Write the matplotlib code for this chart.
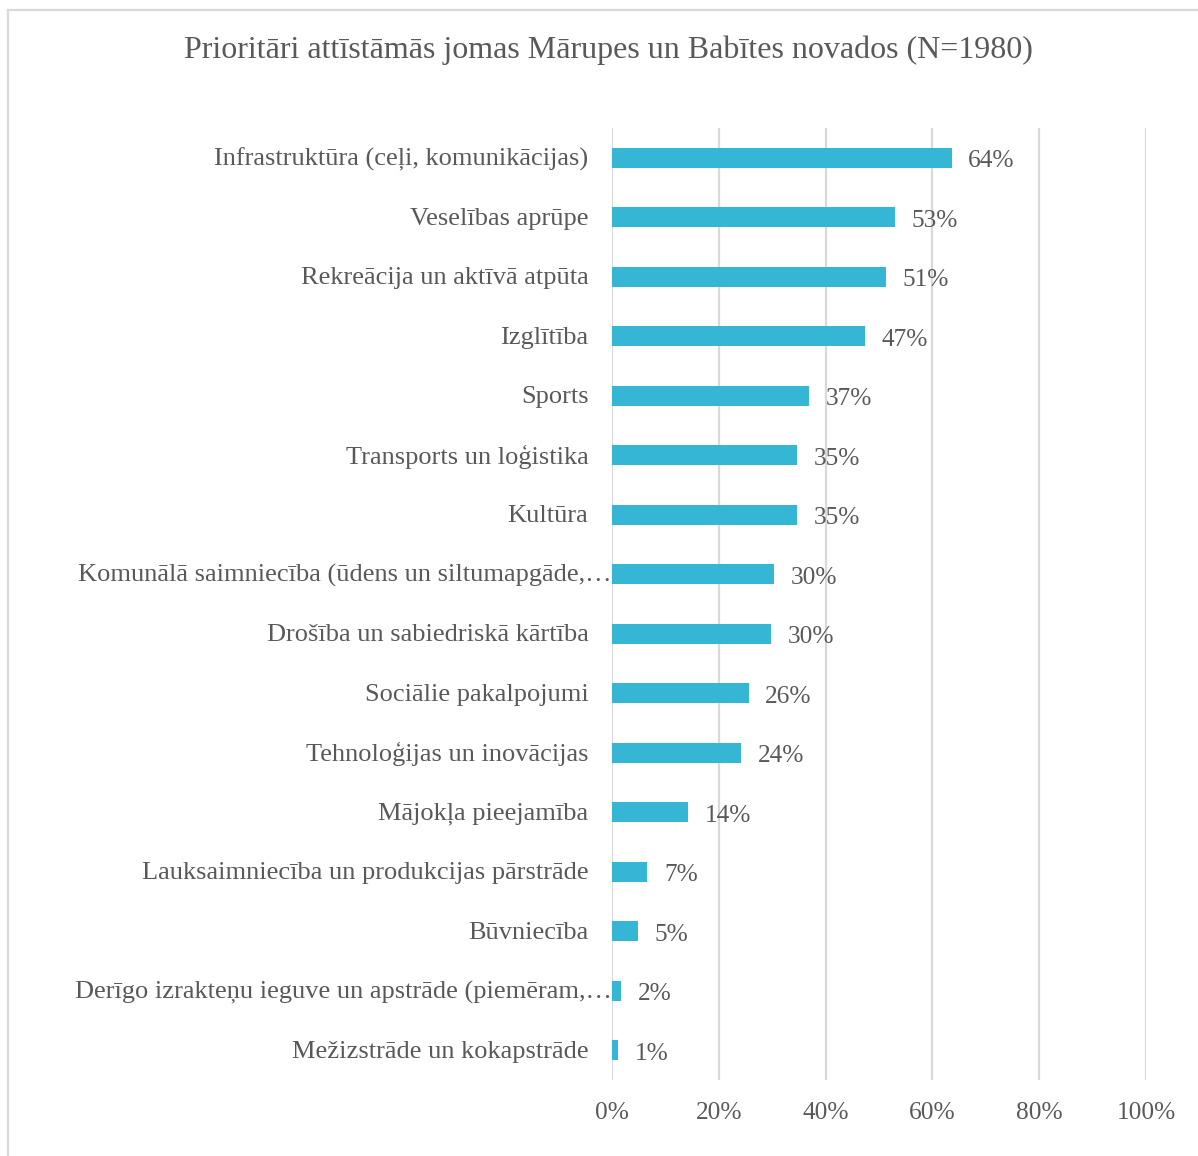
import matplotlib
matplotlib.use("Agg")
import matplotlib.pyplot as plt
from matplotlib.lines import Line2D
from matplotlib.ticker import FuncFormatter, MultipleLocator

categories = [
    "Infrastruktūra (ceļi, komunikācijas)",
    "Veselības aprūpe",
    "Rekreācija un aktīvā atpūta",
    "Izglītība",
    "Sports",
    "Transports un loģistika",
    "Kultūra",
    "Komunālā saimniecība (ūdens un siltumapgāde,…",
    "Drošība un sabiedriskā kārtība",
    "Sociālie pakalpojumi",
    "Tehnoloģijas un inovācijas",
    "Mājokļa pieejamība",
    "Lauksaimniecība un produkcijas pārstrāde",
    "Būvniecība",
    "Derīgo izrakteņu ieguve un apstrāde (piemēram,…",
    "Mežizstrāde un kokapstrāde",
]
values = [63.6, 53.0, 51.3, 47.4, 36.9, 34.7, 34.6, 30.3, 29.8, 25.6, 24.2, 14.2, 6.6, 4.9, 1.7, 1.2]
truncated = [False] * 7 + [True] + [False] * 6 + [True] + [False]
title = "Prioritāri attīstāmās jomas Mārupes un Babītes novados (N=1980)"

TXT = "#595959"
BAR = "#35B6D4"
GRID = "#D9D9D9"
FONT = "Liberation Serif"

fig = plt.figure(figsize=(11.98, 11.56), dpi=100)
ax = fig.add_axes([612 / 1198, 1 - 1080 / 1156, (1146 - 612) / 1198, (1080 - 128) / 1156])

ypos = list(range(len(categories)))
ax.barh(ypos, values, height=0.34, color=BAR, zorder=3)
ax.set_ylim(len(categories) - 0.5, -0.5)
ax.set_xlim(0, 100)
ax.xaxis.set_major_locator(MultipleLocator(20))
ax.xaxis.set_major_formatter(FuncFormatter(lambda v, p: f"{v:.0f}%"))
ax.grid(axis="x", color=GRID, linewidth=1.6, zorder=0)
for s in ax.spines.values():
    s.set_visible(False)
ax.tick_params(axis="both", length=0)
ax.tick_params(axis="x", pad=16, labelsize=18.3, labelcolor=TXT)
for lab in ax.get_xticklabels():
    lab.set_fontfamily(FONT)
ax.set_yticks([])

for i, (cat, v, tr) in enumerate(zip(categories, values, truncated)):
    off = 0 if tr else -17
    ax.annotate(cat, xy=(0, i), xycoords=("axes fraction", "data"),
                xytext=(off, -1), textcoords="offset points",
                ha="right", va="center", fontsize=19, color=TXT, fontfamily=FONT)
    ax.annotate(f"{v:.0f}%", xy=(v, i), xycoords="data",
                xytext=(12, -2.5), textcoords="offset points",
                ha="left", va="center", fontsize=18.3, color=TXT, fontfamily=FONT)

fig.text(608 / 1198, 1 - 50 / 1156, title, ha="center", va="center",
         fontsize=23, color=TXT, fontfamily=FONT)

fig.add_artist(Line2D([8 / 1198, 1.0], [1 - 10 / 1156, 1 - 10 / 1156], color=GRID, linewidth=1.6, transform=fig.transFigure))
fig.add_artist(Line2D([8 / 1198, 8 / 1198], [1 - 10 / 1156, 0.0], color=GRID, linewidth=1.6, transform=fig.transFigure))

fig.savefig("out.png", dpi=100, facecolor="white")
